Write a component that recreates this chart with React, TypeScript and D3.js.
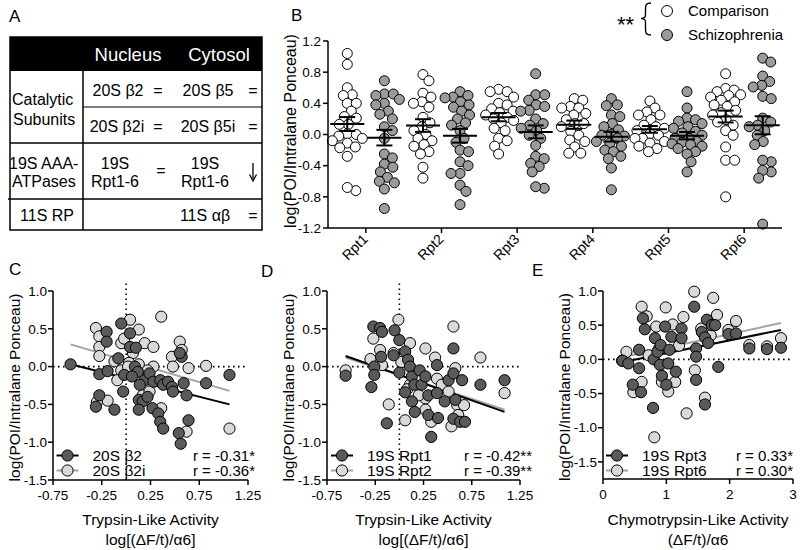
import React from 'react';
import * as d3 from 'd3';

const FONT = '"Liberation Sans", Arial, Helvetica, sans-serif';

// ---------- Panel B data ----------
const rptCategories = ['Rpt1', 'Rpt2', 'Rpt3', 'Rpt4', 'Rpt5', 'Rpt6'];
const rpt1Comparison = [1.04, 0.9, 0.6, 0.51, 0.5, 0.4, 0.4, 0.3, 0.23, 0.21, 0.13, 0.13, 0.01, 0.0, -0.02, -0.05, -0.08, -0.11, -0.16, -0.17, -0.28, -0.72, -0.68];
const rpt1Schizophrenia = [0.69, 0.52, 0.52, 0.5, 0.45, 0.4, 0.38, 0.3, 0.26, 0.2, 0.1, 0.05, -0.05, -0.25, -0.3, -0.38, -0.42, -0.48, -0.55, -0.6, -0.62, -0.7, -0.95];
const rpt2Comparison = [0.77, 0.69, 0.53, 0.48, 0.42, 0.4, 0.35, 0.22, 0.15, 0.1, 0.05, 0.0, -0.05, -0.08, -0.13, -0.15, -0.22, -0.25, -0.42, -0.56];
const rpt2Schizophrenia = [0.55, 0.5, 0.48, 0.47, 0.42, 0.38, 0.35, 0.3, 0.25, 0.2, 0.15, 0.12, 0.05, -0.05, -0.1, -0.2, -0.22, -0.35, -0.4, -0.5, -0.5, -0.65, -0.73, -0.9];
const rpt3Comparison = [0.58, 0.55, 0.55, 0.48, 0.4, 0.38, 0.33, 0.3, 0.28, 0.25, 0.22, 0.2, 0.18, 0.15, 0.08, 0.05, -0.05, -0.08, -0.15, -0.25];
const rpt3Schizophrenia = [0.78, 0.51, 0.51, 0.44, 0.38, 0.36, 0.31, 0.3, 0.2, 0.14, 0.12, 0.08, 0.05, -0.01, -0.05, -0.14, -0.28, -0.31, -0.37, -0.41, -0.48, -0.69, -0.67];
const rpt4Comparison = [0.46, 0.44, 0.36, 0.34, 0.34, 0.27, 0.25, 0.19, 0.14, 0.14, 0.1, 0.04, -0.01, -0.09, -0.07, -0.16, -0.24, -0.24];
const rpt4Schizophrenia = [0.46, 0.38, 0.37, 0.25, 0.23, 0.14, 0.1, 0.06, 0.0, -0.01, -0.02, -0.05, -0.09, -0.11, -0.15, -0.2, -0.22, -0.28, -0.31, -0.43, -0.71];
const rpt5Comparison = [0.43, 0.34, 0.29, 0.25, 0.25, 0.19, 0.12, 0.1, 0.08, 0.05, 0.01, -0.01, -0.05, -0.05, -0.09, -0.11, -0.15, -0.18, -0.22];
const rpt5Schizophrenia = [0.55, 0.34, 0.21, 0.19, 0.17, 0.14, 0.1, 0.08, 0.04, 0.02, -0.01, -0.05, -0.05, -0.09, -0.1, -0.12, -0.13, -0.15, -0.18, -0.22, -0.25, -0.35, -0.48];
const rpt6Comparison = [0.78, 0.59, 0.57, 0.55, 0.51, 0.5, 0.48, 0.44, 0.42, 0.38, 0.36, 0.31, 0.28, 0.25, 0.19, 0.16, 0.12, 0.05, -0.01, -0.16, -0.33, -0.33, -0.8];
const rpt6Schizophrenia = [0.98, 0.93, 0.75, 0.68, 0.63, 0.61, 0.49, 0.46, 0.21, 0.16, 0.12, 0.1, 0.05, -0.01, -0.09, -0.13, -0.35, -0.33, -0.48, -0.46, -0.56, -1.15];
const comparisonGroups = [rpt1Comparison, rpt2Comparison, rpt3Comparison, rpt4Comparison, rpt5Comparison, rpt6Comparison];
const schizophreniaGroups = [rpt1Schizophrenia, rpt2Schizophrenia, rpt3Schizophrenia, rpt4Schizophrenia, rpt5Schizophrenia, rpt6Schizophrenia];
const bYTicks = [-1.2, -0.8, -0.4, 0.0, 0.4, 0.8, 1.2];

// ---------- Panel C data ----------
const cB2X = [-0.57, -0.275, -0.19, -0.275, -0.31, -0.12, -0.2, -0.2, -0.08, -0.05, 0.04, 0.04, 0.1, -0.02, -0.03, 0.09, 0.12, 0.06, 0.19, 0.14, 0.13, 0.17, 0.22, 0.13, 0.24, 0.28, 0.35, 0.38, 0.43, 0.47, 0.48, 0.27, 0.33, 0.35, 0.38, 0.54, 0.56, 0.64, 0.59, 0.62, 0.57, 0.55, 0.82, 1.06];
const cB2Y = [0.03, -0.1, -0.06, -0.38, -0.53, -0.57, 0.46, 0.33, 0.11, 0.57, 0.44, 0.26, 0.25, -0.11, -0.33, 0.0, -0.07, -0.13, -0.18, -0.24, -0.44, -0.46, -0.4, -0.57, -0.09, -0.2, -0.18, -0.24, -0.2, -0.27, -0.33, -0.55, -0.62, -0.73, -0.82, -0.88, -1.02, -0.71, -0.22, -0.38, 0.13, 0.18, -0.22, -0.11];
const cB2iX = [-0.31, -0.275, -0.275, -0.275, -0.12, -0.19, -0.09, -0.05, -0.02, 0.04, 0.13, 0.07, 0.13, 0.19, 0.28, 0.36, 0.28, 0.36, 0.17, 0.55, 0.57, 0.47, 0.48, 0.64, 0.62, 0.82, 1.06, -0.05, -0.3, 0.03, 0.22, 0.02, 0.24];
const cB2iY = [0.51, 0.4, 0.26, 0.14, 0.07, -0.45, -0.18, 0.31, 0.37, 0.62, 0.49, 0.18, 0.03, 0.31, 0.26, 0.66, 0.0, -0.55, -0.38, 0.33, 0.22, 0.13, 0.0, -0.02, -0.86, 0.01, -0.82, -0.05, -0.47, 0.05, -0.05, 0.0, -0.33];
const cFitSlope = [-0.325, -0.377];
const cFitIntercept = [-0.155, 0.079];
const cLabels = ['20S \u03b22', '20S \u03b22i'];
const cStats = ['r = -0.31*', 'r = -0.36*'];

// ---------- Panel D data ----------
const dRpt1X = [-0.557, -0.27, -0.2, -0.18, -0.19, -0.26, -0.26, -0.29, -0.13, -0.05, 0.0, -0.06, 0.06, 0.0, 0.09, 0.11, 0.13, 0.06, 0.155, 0.13, 0.16, 0.21, 0.23, 0.27, 0.3, 0.3, 0.33, 0.39, 0.39, 0.4, 0.47, 0.51, 0.56, 0.56, 0.58, 0.56, 0.63, 0.68, 0.65, 0.84, 1.09];
const dRpt1Y = [-0.12, 0.53, 0.51, 0.46, 0.13, 0.0, -0.11, -0.27, -0.75, 0.48, 0.35, 0.15, 0.2, -0.08, 0.09, 0.0, -0.13, -0.34, -0.24, -0.46, -0.6, -0.05, -0.24, -0.13, -0.38, -0.64, -0.93, 0.02, -0.35, -0.68, -0.46, -0.18, 0.24, -0.09, -0.44, -0.69, -0.73, -0.73, -0.18, -0.24, -0.18];
const dRpt2X = [-0.557, -0.27, -0.3, -0.2, -0.18, -0.11, -0.01, 0.11, 0.02, 0.06, 0.27, 0.37, 0.39, 0.27, 0.33, 0.56, 0.58, 0.44, 0.51, 0.6, 0.61, 0.54, 0.67, 0.84, 1.09, 0.2, 0.27, 0.11, -0.06, 0.08];
const dRpt2Y = [-0.05, 0.37, 0.1, 0.22, 0.02, -0.5, 0.62, 0.31, 0.06, -0.71, 0.24, 0.12, -0.16, -0.42, -0.73, 0.53, -0.02, -0.24, -0.33, -0.51, -0.64, -0.79, -0.51, 0.12, -0.35, -0.38, -0.57, -0.24, 0.18, -0.3];
const dFitSlope = [-0.449, -0.419];
const dFitIntercept = [-0.11, -0.113];
const dLabels = ['19S Rpt1', '19S Rpt2'];
const dStats = ['r = -0.42**', 'r = -0.39**'];

// ---------- Panel E data ----------
const eRpt3X = [0.31, 0.4, 0.47, 0.6, 0.57, 0.57, 0.63, 0.66, 0.8, 0.79, 0.82, 0.86, 0.91, 0.9, 0.93, 1.0, 1.03, 0.98, 1.05, 1.08, 1.15, 1.24, 1.24, 1.44, 1.47, 1.47, 1.47, 1.56, 1.61, 1.64, 1.66, 1.72, 1.77, 1.82, 1.98, 2.1, 2.31, 2.59, 2.81, 1.61];
const eRpt3Y = [-0.02, -0.06, -0.37, -0.48, 0.14, -0.13, 0.6, 0.44, 0.0, -0.71, 0.31, 0.11, 0.21, -0.08, -0.24, -0.37, -0.06, 0.48, 0.14, 0.33, -0.18, 0.45, 0.31, 0.77, 0.16, 0.04, -0.3, 0.4, 0.32, 0.58, 0.24, 0.5, 0.5, -0.11, 0.37, 0.38, 0.16, 0.15, 0.17, -0.66];
const eRpt6X = [0.37, 0.61, 0.69, 0.61, 0.48, 0.81, 0.84, 0.99, 0.93, 1.03, 1.14, 1.1, 1.27, 1.32, 1.44, 1.45, 1.61, 1.74, 1.8, 2.1, 1.98, 2.31, 2.59, 2.81, 0.72, 0.3, 0.88, 1.2, 1.55, 1.7];
const eRpt6Y = [0.11, 0.77, 0.63, -0.33, -0.48, -1.14, 0.48, 0.76, -0.33, -0.47, -0.33, 0.51, 0.62, -0.79, 0.99, -0.16, -0.56, 0.9, 0.65, 0.56, 0.43, 0.21, 0.19, 0.31, 0.06, -0.02, 0.15, 0.2, 0.45, 0.35];
const eFitSlope = [0.188, 0.2];
const eFitIntercept = [-0.098, -0.03];
const eLabels = ['19S Rpt3', '19S Rpt6'];
const eStats = ['r = 0.33*', 'r = 0.30*'];

const trypsinXTicks = [-0.75, -0.25, 0.25, 0.75, 1.25];
const scatterYTicks = [-1.5, -1.0, -0.5, 0.0, 0.5, 1.0];
const chymoXTicks = [0, 1, 2, 3];

const DARK = '#5a5a5a';
const LIGHT = '#d9d9d9';
const GREY = '#9b9b9b';

function swarm(values: number[], py: (v: number) => number, d: number, maxOff: number): number[] {
  const order = values.map((_, i) => i).sort((a, b) => py(values[a]) - py(values[b]));
  const placed: { x: number; y: number }[] = [];
  const out: number[] = new Array(values.length).fill(0);
  const cands: number[] = [0];
  for (let k = 0.5; k <= maxOff; k += 0.5) { cands.push(k, -k); }
  for (const i of order) {
    const y = py(values[i]);
    let best = 0, bestScore = -Infinity;
    for (const c of cands) {
      let md = Infinity;
      for (const p of placed) {
        const dd = Math.hypot(p.x - c, p.y - y);
        if (dd < md) md = dd;
      }
      if (md >= d) { best = c; break; }
      if (md > bestScore) { bestScore = md; best = c; }
    }
    placed.push({ x: best, y });
    out[i] = best;
  }
  return out;
}

function TablePanel() {
  const L = 10, R = 262, T = 37, B = 230, C1 = 83;
  const fs = 16;
  const t = (s: string, x: number, y: number, anchor = 'middle', size = fs, fill = '#000') => (
    <text x={x} y={y} textAnchor={anchor} dominantBaseline="central" fontSize={size} fill={fill}>{s}</text>
  );
  return (
    <g>
      <text x={9} y={22} fontSize={17}>A</text>
      <rect x={L} y={T} width={R - L} height={34} fill="#000" />
      <rect x={L} y={T} width={R - L} height={B - T} fill="none" stroke="#000" strokeWidth={1.5} />
      <line x1={C1} x2={C1} y1={71} y2={B} stroke="#000" strokeWidth={1.5} />
      <line x1={C1} x2={R} y1={107} y2={107} stroke="#000" strokeWidth={1.2} />
      <line x1={L} x2={R} y1={143} y2={143} stroke="#000" strokeWidth={1.5} />
      <line x1={L - 2} x2={R} y1={199} y2={199} stroke="#000" strokeWidth={1.5} />
      {t('Nucleus', 128, 54, 'middle', 18.5, '#fff')}
      {t('Cytosol', 219, 54, 'middle', 18.5, '#fff')}
      {t('Catalytic', 12, 99, 'start')}
      {t('Subunits', 13, 119, 'start')}
      {t('20S \u03b22', 118, 90)}
      {t('=', 158, 90)}
      {t('20S \u03b25', 208, 90)}
      {t('=', 253, 90)}
      {t('20S \u03b22i', 117, 126)}
      {t('=', 158, 126)}
      {t('20S \u03b25i', 208, 126)}
      {t('=', 253, 126)}
      {t('19S AAA-', 9, 163, 'start')}
      {t('ATPases', 12, 181, 'start')}
      {t('19S', 115, 163)}
      {t('Rpt1-6', 115, 181)}
      {t('=', 161, 170)}
      {t('19S', 205, 163)}
      {t('Rpt1-6', 205, 181)}
      <line x1={253} x2={253} y1={163} y2={179} stroke="#000" strokeWidth={1.3} />
      <path d="M249.5,174.5 L253,181 L256.5,174.5" fill="none" stroke="#000" strokeWidth={1.3} />
      {t('11S RP', 47, 215)}
      {t('11S \u03b1\u03b2', 205, 215)}
      {t('=', 253, 215)}
    </g>
  );
}

function PanelB() {
  const x = d3.scaleBand<string>().domain(rptCategories).range([328, 782]).padding(0);
  const y = d3.scaleLinear().domain([-1.2, 1.2]).range([228, 41]);
  const bw = x.bandwidth();
  const off = bw * 0.245;
  const r = 5;
  const groups = rptCategories.flatMap((cat, i) => [
    { cx: (x(cat) as number) + bw / 2 - off, vals: comparisonGroups[i], fill: '#fff', key: cat + 'c' },
    { cx: (x(cat) as number) + bw / 2 + off, vals: schizophreniaGroups[i], fill: GREY, key: cat + 's' },
  ]);
  return (
    <g>
      <text x={291} y={21} fontSize={17}>B</text>
      {groups.map(g => {
        const xs = swarm(g.vals, y, 8.6, 15);
        return (
          <g key={g.key}>
            {g.vals.map((v, j) => (
              <circle key={j} cx={g.cx + xs[j]} cy={y(v)} r={r} fill={g.fill} stroke="#000" strokeWidth={1} />
            ))}
          </g>
        );
      })}
      {groups.map(g => {
        const m = d3.mean(g.vals) as number;
        const sem = (d3.deviation(g.vals) as number) / Math.sqrt(g.vals.length);
        return (
          <g key={g.key + 'm'} stroke="#000" strokeWidth={2}>
            <line x1={g.cx - 17} x2={g.cx + 17} y1={y(m)} y2={y(m)} />
            <line x1={g.cx} x2={g.cx} y1={y(m - sem)} y2={y(m + sem)} />
            <line x1={g.cx - 8} x2={g.cx + 8} y1={y(m - sem)} y2={y(m - sem)} />
            <line x1={g.cx - 8} x2={g.cx + 8} y1={y(m + sem)} y2={y(m + sem)} />
          </g>
        );
      })}
      <line x1={328} x2={328} y1={y(1.2)} y2={228} stroke="#000" strokeWidth={1.5} />
      <line x1={328} x2={782} y1={228} y2={228} stroke="#000" strokeWidth={1.5} />
      {bYTicks.map(v => (
        <g key={v}>
          <line x1={323} x2={328} y1={y(v)} y2={y(v)} stroke="#000" strokeWidth={1.5} />
          <text x={321} y={y(v)} dy="0.35em" textAnchor="end" fontSize={13.5}>{v.toFixed(1)}</text>
        </g>
      ))}
      {rptCategories.map(c => {
        const cx = (x(c) as number) + bw / 2;
        return (
          <g key={c}>
            <line x1={cx} x2={cx} y1={228} y2={233} stroke="#000" strokeWidth={1.5} />
            <text transform={`translate(${cx + 3},${240}) rotate(-45)`} textAnchor="end" fontSize={14}>{c}</text>
          </g>
        );
      })}
      <text transform="translate(296,131) rotate(-90)" textAnchor="middle" fontSize={16}>log(POI/Intralane Ponceau)</text>
      {/* legend */}
      <text x={617} y={32} fontSize={22}>**</text>
      <path d="M651,3 C646,3 645.5,5 645.5,9 L645.5,14.5 C645.5,17.5 644.5,18.5 641,18.5 C644.5,18.5 645.5,19.5 645.5,22.5 L645.5,29 C645.5,33 646,35 651,35" fill="none" stroke="#000" strokeWidth={1.4} />
      <circle cx={667} cy={11} r={5.5} fill="#fff" stroke="#000" />
      <circle cx={667} cy={35} r={5.5} fill={GREY} stroke="#000" />
      <text x={688} y={11} dy="0.35em" fontSize={15}>Comparison</text>
      <text x={688} y={35} dy="0.35em" fontSize={15}>Schizophrenia</text>
    </g>
  );
}

type Series = { xs: number[]; ys: number[]; fill: string; line: string; slope: number; intercept: number; label: string; stat: string };

function ScatterPanel(p: {
  letter: string; lx: number; ly: number;
  x0: number; x1: number; yTop: number; yBot: number;
  xDomain: [number, number]; yDomain: [number, number];
  xTicks: number[]; xFmt: (v: number) => string; yTicks: number[];
  vDot: boolean; series: Series[]; legX: number; statRight: number;
  title1: string; title2: string; yTitleX: number;
}) {
  const x = d3.scaleLinear().domain(p.xDomain).range([p.x0, p.x1]);
  const y = d3.scaleLinear().domain(p.yDomain).range([p.yBot, p.yTop]);
  const allX = p.series.flatMap(s => s.xs);
  const [mn, mx] = d3.extent(allX) as [number, number];
  const r = 5.6;
  const legY = [455.5, 470.5];
  const drawOrder = [...p.series].reverse();
  const cx = (p.x0 + p.x1) / 2;
  return (
    <g>
      <text x={p.lx} y={p.ly} fontSize={17}>{p.letter}</text>
      <line x1={p.x0} x2={p.x1} y1={y(0)} y2={y(0)} stroke="#000" strokeWidth={1.6} strokeDasharray="1.6,3.4" />
      {p.vDot && <line x1={x(0)} x2={x(0)} y1={y(1.1)} y2={p.yBot} stroke="#000" strokeWidth={1.6} strokeDasharray="1.6,3.4" />}
      {drawOrder.map((s, i) => (
        <line key={'f' + i} x1={x(mn)} x2={x(mx)} y1={y(s.slope * mn + s.intercept)} y2={y(s.slope * mx + s.intercept)} stroke={s.line} strokeWidth={2} />
      ))}
      {drawOrder.map((s, i) => (
        <g key={'s' + i}>
          {s.xs.map((xv, j) => (
            <circle key={j} cx={x(xv)} cy={y(s.ys[j])} r={r} fill={s.fill} stroke="#000" strokeWidth={1} />
          ))}
        </g>
      ))}
      <line x1={p.x0} x2={p.x0} y1={p.yTop} y2={p.yBot} stroke="#000" strokeWidth={1.5} />
      <line x1={p.x0} x2={p.x1} y1={p.yBot} y2={p.yBot} stroke="#000" strokeWidth={1.5} />
      {p.yTicks.map(v => (
        <g key={'y' + v}>
          <line x1={p.x0 - 5} x2={p.x0} y1={y(v)} y2={y(v)} stroke="#000" strokeWidth={1.5} />
          <text x={p.x0 - 6} y={y(v)} dy="0.35em" textAnchor="end" fontSize={13.5}>{v.toFixed(1)}</text>
        </g>
      ))}
      {p.xTicks.map(v => (
        <g key={'x' + v}>
          <line x1={x(v)} x2={x(v)} y1={p.yBot} y2={p.yBot + 5} stroke="#000" strokeWidth={1.5} />
          <text x={x(v)} y={p.yBot + 20} textAnchor="middle" fontSize={13.5}>{p.xFmt(v)}</text>
        </g>
      ))}
      {p.series.map((s, i) => (
        <g key={'l' + i}>
          <line x1={p.legX - 11} x2={p.legX + 11} y1={legY[i]} y2={legY[i]} stroke={s.line} strokeWidth={2} />
          <circle cx={p.legX} cy={legY[i]} r={r} fill={s.fill} stroke="#000" />
          <text x={p.legX + 25} y={legY[i]} dy="0.36em" fontSize={15.5}>{s.label}</text>
          <text x={p.statRight} y={legY[i]} dy="0.36em" textAnchor="end" fontSize={15}>{s.stat}</text>
        </g>
      ))}
      <text transform={`translate(${p.yTitleX},${(p.yTop + p.yBot) / 2 + 2}) rotate(-90)`} textAnchor="middle" fontSize={15.5}>log(POI/Intralane Ponceau)</text>
      <text x={cx} y={525} textAnchor="middle" fontSize={15.5}>{p.title1}</text>
      <text x={cx} y={545} textAnchor="middle" fontSize={15.5}>{p.title2}</text>
    </g>
  );
}

export default function App() {
  const fmt2 = (v: number) => v.toFixed(2);
  const fmt0 = (v: number) => String(v);
  const mk = (xs: number[][], ys: number[][], sl: number[], ic: number[], lb: string[], st: string[]): Series[] => [
    { xs: xs[0], ys: ys[0], fill: DARK, line: '#000', slope: sl[0], intercept: ic[0], label: lb[0], stat: st[0] },
    { xs: xs[1], ys: ys[1], fill: LIGHT, line: '#a3a3a3', slope: sl[1], intercept: ic[1], label: lb[1], stat: st[1] },
  ];
  return (
    <svg width={800} height={550} style={{ position: 'absolute', left: 0, top: 0, background: '#fff' }} fontFamily={FONT}>
      <rect width={800} height={550} fill="#fff" />
      <TablePanel />
      <PanelB />
      <ScatterPanel letter="C" lx={9} ly={275} x0={53} x1={248} yTop={291} yBot={480}
        xDomain={[-0.75, 1.25]} yDomain={[-1.5, 1.0]} xTicks={trypsinXTicks} xFmt={fmt2} yTicks={scatterYTicks}
        vDot={true} series={mk([cB2X, cB2iX], [cB2Y, cB2iY], cFitSlope, cFitIntercept, cLabels, cStats)}
        legX={67.5} statRight={255} title1="Trypsin-Like Activity" title2={'log[(\u0394F/t)/\u03b16]'} yTitleX={20} />
      <ScatterPanel letter="D" lx={261} ly={277} x0={327} x1={520} yTop={291} yBot={480}
        xDomain={[-0.75, 1.25]} yDomain={[-1.5, 1.0]} xTicks={trypsinXTicks} xFmt={fmt2} yTicks={scatterYTicks}
        vDot={true} series={mk([dRpt1X, dRpt2X], [dRpt1Y, dRpt2Y], dFitSlope, dFitIntercept, dLabels, dStats)}
        legX={342} statRight={532} title1="Trypsin-Like Activity" title2={'log[(\u0394F/t)/\u03b16]'} yTitleX={294} />
      <ScatterPanel letter="E" lx={532} ly={276} x0={603} x1={793} yTop={291} yBot={479}
        xDomain={[0, 3]} yDomain={[-1.75, 1.0]} xTicks={chymoXTicks} xFmt={fmt0} yTicks={scatterYTicks}
        vDot={false} series={mk([eRpt3X, eRpt6X], [eRpt3Y, eRpt6Y], eFitSlope, eFitIntercept, eLabels, eStats)}
        legX={617} statRight={793} title1="Chymotrypsin-Like Activity" title2={'(\u0394F/t)/\u03b16'} yTitleX={570} />
    </svg>
  );
}
